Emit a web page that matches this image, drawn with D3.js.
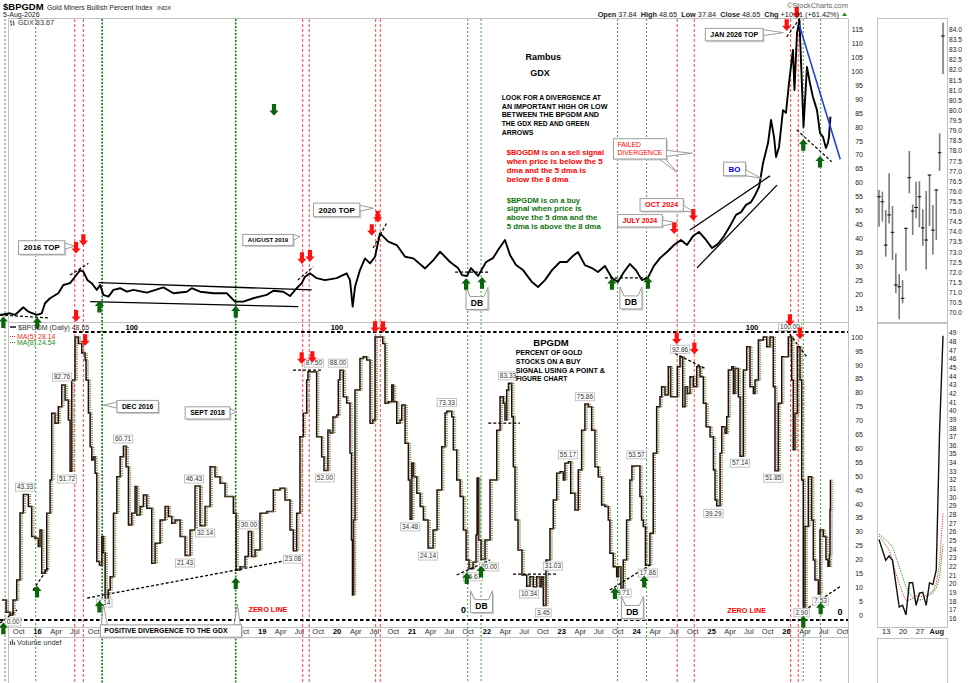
<!DOCTYPE html>
<html lang="en">
<head>
<meta charset="UTF-8">
<title>$BPGDM Gold Miners Bullish Percent Index</title>
<script src="https://d3js.org/d3.v7.min.js"></script>
<style>
    body { margin: 0; background: #fff; }
    text { font-family: "Liberation Sans", Arial, sans-serif; }
</style>
</head>
<body>
<svg id="chart" width="973" height="683"></svg>
<script>
    // ---- data (time as decimal year) ----
    var gdxSeries = [
        [2015.506,12.5],[2015.64,13.1],[2015.706,12.5],[2015.817,15.25],[2015.884,13.7],[2015.996,12.5],[2016.063,13.1],[2016.107,16.7],
        [2016.174,18.5],[2016.284,20.3],[2016.351,23.25],[2016.441,23.9],[2016.507,26.2],[2016.574,28.6],[2016.618,28],[2016.672,25],
        [2016.73,23.9],[2016.797,21.5],[2016.841,23.25],[2016.885,19.7],[2016.952,19.1],[2017.019,21.5],[2017.108,22.1],[2017.198,20.85],
        [2017.286,21.5],[2017.465,20.5],[2017.686,22.4],[2017.82,20.3],[2017.999,20.85],[2018.065,22.1],[2018.176,20.85],[2018.354,20.3],
        [2018.533,20.3],[2018.644,17.3],[2018.754,17.3],[2018.888,18.5],[2019.067,19.7],[2019.155,21.2],[2019.289,20.85],[2019.378,19.3],
        [2019.467,22.1],[2019.534,23.9],[2019.578,26.2],[2019.645,27.45],[2019.734,25.7],[2019.845,25],[2020.001,25.7],[2020.135,27.45],
        [2020.179,25],[2020.215,15.5],[2020.246,22.6],[2020.312,28.6],[2020.379,32.8],[2020.446,31],[2020.513,33.4],[2020.579,41.8],
        [2020.623,40.6],[2020.69,38.8],[2020.802,37.6],[2020.913,33.4],[2021.024,32.8],[2021.18,29.2],[2021.291,32.2],[2021.381,35.2],
        [2021.514,31.5],[2021.621,29.35],[2021.674,26.8],[2021.741,26.5],[2021.794,29.35],[2021.888,26.5],[2021.995,31.5],[2022.088,32.9],
        [2022.155,35.8],[2022.248,39.4],[2022.315,34],[2022.395,30.4],[2022.489,28.6],[2022.609,24.3],[2022.689,22.5],[2022.782,25],
        [2022.876,28.6],[2022.983,31.5],[2023.076,31.5],[2023.156,33.7],[2023.223,35.1],[2023.316,30.4],[2023.41,29.35],[2023.49,27.9],
        [2023.583,30.1],[2023.677,25.8],[2023.757,24.3],[2023.837,27.9],[2023.917,30.8],[2023.997,28.6],[2024.077,25],[2024.157,25.8],
        [2024.237,30.1],[2024.318,32.9],[2024.411,35.1],[2024.505,37.6],[2024.598,39.4],[2024.678,37.6],[2024.758,40.8],[2024.838,42.3],
        [2024.932,39.4],[2025.012,36.5],[2025.092,38],[2025.172,40.8],[2025.252,44.4],[2025.332,48.4],[2025.399,49.4],[2025.466,52],
        [2025.533,53],[2025.573,54.8],[2025.64,58.4],[2025.693,67],[2025.76,74.2],[2025.8,82.5],[2025.84,76.4],[2025.867,69.2],
        [2025.907,72.8],[2025.96,86],[2026.0,85],[2026.04,95.7],[2026.093,107.6],[2026.113,93.2],[2026.147,113.7],[2026.18,118.3],
        [2026.2,104],[2026.234,80],[2026.28,101.5],[2026.32,95.7],[2026.36,90.7],[2026.414,86],[2026.454,77.8],[2026.494,76.4],
        [2026.534,72.4],[2026.56,74.2],[2026.574,76.4],[2026.594,83.67]
    ];

    var bpgdmSeries = [
        [2015.533,5.4],[2015.586,1],[2015.64,0],[2015.68,5.4],[2015.729,12.6],[2015.773,36.7],[2015.817,43.33],[2015.853,43.33],
        [2015.884,39],[2015.929,28.2],[2015.973,27.6],[2016.017,24.6],[2016.04,30.6],[2016.063,15],[2016.107,16.2],[2016.13,36.6],
        [2016.174,48.6],[2016.196,72.6],[2016.24,69],[2016.284,74.9],[2016.33,82.76],[2016.374,77.3],[2016.418,70.1],[2016.441,51.72],
        [2016.463,84.5],[2016.507,100],[2016.551,97.7],[2016.597,94.2],[2016.641,91.7],[2016.654,84.5],[2016.685,72.7],[2016.708,60.5],
        [2016.73,55.8],[2016.752,56.9],[2016.774,51],[2016.797,19.2],[2016.832,18],[2016.864,28.2],[2016.885,22.3],[2016.908,4.14],
        [2016.948,9],[2016.975,13.8],[2017.019,36.6],[2017.064,49.7],[2017.108,56.9],[2017.152,60.71],[2017.188,53.3],[2017.219,32.4],
        [2017.264,36.6],[2017.308,46.2],[2017.331,36],[2017.375,39],[2017.419,43.2],[2017.465,38.4],[2017.531,18.6],[2017.575,25.8],
        [2017.642,34.2],[2017.709,39],[2017.753,35.4],[2017.798,33],[2017.842,34.2],[2017.909,28.2],[2017.976,21.43],[2018.043,30.6],
        [2018.109,46.43],[2018.176,32.14],[2018.243,39],[2018.31,53.3],[2018.376,49.7],[2018.443,47.4],[2018.51,42.6],[2018.577,42.6],
        [2018.621,36.6],[2018.657,16.2],[2018.71,17.4],[2018.777,21],[2018.821,30],[2018.866,21],[2018.911,23.4],[2018.977,36.6],
        [2019.067,37.2],[2019.155,45],[2019.244,45.6],[2019.311,41.4],[2019.378,30.6],[2019.422,23.08],[2019.467,36.6],[2019.511,64.1],
        [2019.556,72.6],[2019.601,84.5],[2019.618,87.5],[2019.725,87.5],[2019.734,64.1],[2019.801,56.9],[2019.832,52],[2019.885,66.5],
        [2019.912,65.5],[2019.952,71.2],[2020.001,71.9],[2020.023,84.5],[2020.045,88],[2020.09,78.5],[2020.135,76.3],[2020.179,58.3],
        [2020.199,27],[2020.212,7.2],[2020.226,34.2],[2020.246,80.9],[2020.312,92.3],[2020.356,92.9],[2020.402,91.7],[2020.446,69],
        [2020.482,70.1],[2020.513,100],[2020.579,100],[2020.616,97.7],[2020.646,76.2],[2020.69,76.7],[2020.736,82.7],[2020.757,76.7],
        [2020.802,69],[2020.846,70.1],[2020.869,75.5],[2020.913,61.8],[2020.957,48.6],[2020.98,34.48],[2021.003,54.7],[2021.024,49.7],
        [2021.07,43.8],[2021.114,39],[2021.158,34.2],[2021.22,24.14],[2021.287,30.6],[2021.34,45],[2021.403,60.5],[2021.447,72.7],
        [2021.47,73.33],[2021.537,71.3],[2021.558,59.4],[2021.603,48.6],[2021.648,42.6],[2021.692,30.6],[2021.728,19.8],[2021.768,16.67],
        [2021.821,19],[2021.861,28.8],[2021.875,49.3],[2021.895,27],[2021.928,20],[2021.981,27],[2022.048,48.6],[2022.138,66.5],
        [2022.182,78.5],[2022.226,76.2],[2022.248,70.1],[2022.271,80.9],[2022.295,83.33],[2022.338,71.3],[2022.359,53.3],[2022.382,34.2],
        [2022.422,23.4],[2022.475,14.4],[2022.538,10.34],[2022.582,13.8],[2022.626,10.2],[2022.672,13.8],[2022.716,10.2],[2022.738,13.8],
        [2022.76,3.45],[2022.796,19.8],[2022.849,31.03],[2022.893,41.4],[2022.939,51],[2022.983,51.5],[2023.027,48.6],[2023.049,54.6],
        [2023.094,55.17],[2023.126,43.8],[2023.183,37.8],[2023.227,52.2],[2023.272,66.5],[2023.316,75.86],[2023.361,74.9],[2023.406,66.5],
        [2023.45,53.3],[2023.494,49.7],[2023.539,39.6],[2023.583,39],[2023.628,34.2],[2023.65,22.2],[2023.694,17.4],[2023.74,13.8],
        [2023.761,17.4],[2023.797,9.71],[2023.828,19.8],[2023.873,34.2],[2023.917,48.6],[2023.944,53.57],[2024.024,53.57],[2024.051,42.6],
        [2024.073,34.2],[2024.095,31.8],[2024.124,17.86],[2024.184,29.4],[2024.228,58.2],[2024.274,74.9],[2024.318,78.5],[2024.34,82.1],
        [2024.385,79.1],[2024.429,89.3],[2024.461,78.5],[2024.518,78.5],[2024.549,89.3],[2024.585,92.86],[2024.621,74.9],[2024.652,82.1],
        [2024.682,79.7],[2024.718,85.7],[2024.762,82.1],[2024.808,89.3],[2024.852,85.7],[2024.896,76.2],[2024.932,67.7],[2024.963,67.7],
        [2024.985,64.1],[2025.03,52.2],[2025.052,41.4],[2025.075,39.29],[2025.119,58.2],[2025.142,67.7],[2025.186,65.4],[2025.208,71.3],
        [2025.23,88.1],[2025.275,89.3],[2025.297,79.7],[2025.319,88.7],[2025.363,78.5],[2025.386,57.14],[2025.43,88.1],[2025.475,96.5],
        [2025.519,82.1],[2025.564,79.7],[2025.586,84.5],[2025.631,98.9],[2025.697,100],[2025.743,96.5],[2025.786,100],[2025.83,82.1],
        [2025.853,51.85],[2025.897,76.2],[2025.943,92.9],[2025.987,92.9],[2026.031,100],[2026.076,84.5],[2026.097,59.4],[2026.12,72.6],
        [2026.151,96.5],[2026.187,84.5],[2026.21,48.6],[2026.231,2.9],[2026.254,31.8],[2026.298,49.7],[2026.343,34.2],[2026.365,19.8],
        [2026.387,12.6],[2026.432,7.53],[2026.454,30.6],[2026.498,28.2],[2026.534,20],[2026.561,17.5],[2026.581,21.6],[2026.588,37.84],
        [2026.594,48.65]
    ];

    // last 20 sessions (right hand mini panels)
    var miniDates = ['2026-07-09','2026-07-10','2026-07-13','2026-07-14','2026-07-15','2026-07-16','2026-07-17','2026-07-20',
        '2026-07-21','2026-07-22','2026-07-23','2026-07-24','2026-07-27','2026-07-28','2026-07-29','2026-07-30','2026-07-31',
        '2026-08-03','2026-08-04','2026-08-05'];
    var miniHigh = [76.06,75.98,75.07,76.89,75.27,72.93,71.91,71.61,74.2,77.99,75.35,76.47,76.5,75.11,76.01,76.82,75.32,76.1,78.86,84.33];
    var miniLow = [74.25,74.5,72.77,74.41,72.6,70.96,69.67,70.46,72.07,75.9,73.84,74.66,74.22,73.31,72.14,74.28,72.88,73.59,77.01,81.79];
    var miniClose = [75.73,75.48,73.34,74.83,73.97,71.37,71.28,70.71,74.17,76.67,75.02,75.2,75.73,74.19,73.59,76.8,74.08,76.06,77.9,83.67];
    var miniBp = [25.1,23.9,22.7,23.2,22.7,20.0,17.3,17.5,16.4,20.1,20.1,17.5,18.9,19.0,17.5,20.1,19.9,21.6,37.84,48.65];
    var miniMa5 = [25.5,25.05,24.47,23.9,22.74,21.2,20.04,18.9,18.1,18.1,18.3,18.6,18.6,18.5,18.7,18.9,19.1,20.04,22.4,28.14];
    var miniMa8 = [25.74,25.43,25.05,24.67,24.28,23.12,21.96,20.81,19.65,18.9,18.43,18.1,18.1,18.2,18.5,18.7,18.9,19.5,20.81,24.54];
    var miniTickDates = ['2026-07-13','2026-07-20','2026-07-27','2026-08-03'];
    var miniTickLabels = ['13','20','27','Aug'];

    var topTicks = [15,20,25,30,35,40,45,50,55,60,65,70,75,80,85,90,95,100,105,110,115];
    var bottomTicks = [0,5,10,15,20,25,30,35,40,45,50,55,60,65,70,75,80,85,90,95,100];

    // signal lines
    var greenLines = [2015.573,2015.983,2021.75,2021.928,2023.753,2024.14,2026.231,2026.463];
    var greenKeyLines = [2016.868,2018.652];
    var redLines = [2016.503,2016.618,2019.547,2019.635,2020.521,2020.583,2024.548,2024.775,2026.062,2026.164];

    // arrows [time, value]
    var topGreenUp = [[2015.55,9.9],[2016.004,9.6],[2016.832,15.5],[2018.653,13.7],[2021.728,23.6],[2021.941,24],
        [2023.677,23.6],[2024.157,24],[2026.231,73.5],[2026.454,67.5]];
    var topGreenDown = [[2019.164,86.1]];
    var topRedDown = [[2016.521,36.6],[2016.618,39.4],[2019.538,32.9],[2019.645,33.7],[2020.469,43],[2020.549,47.8],
        [2024.508,43.6],[2024.762,48.4],[2026.009,116.5],[2026.143,121]];
    var botRedDown = [[2016.521,107.6],[2016.641,98.9],[2019.534,92.4],[2019.676,92.8],[2020.513,103.6],[2020.619,103.6],
        [2024.541,99.5],[2024.776,95.9],[2026.053,106.1],[2026.187,101.3]];
    var botGreenUp = [[2015.55,-4.8],[2016.0,8.4],[2016.832,3],[2018.653,11.4],[2021.737,13.2],[2021.928,15.6],
        [2023.717,7.8],[2024.108,12],[2026.231,-2.4],[2026.463,2.4]];

    // hand drawn lines
    var topSolid = [[[2016.818,24.1],[2019.668,21.5]],[[2016.708,17.3],[2019.489,15.5]],
        [[2024.718,43],[2025.786,62.4]],[[2024.812,29.4],[2025.88,59.1]]];
    var topDashed = [[[2015.506,12.5],[2016.174,11.4]],[[2016.441,26.8],[2016.685,31]],[[2019.481,25],[2019.689,29.8]],
        [[2020.486,36.5],[2020.669,45.5]],[[2021.581,27.9],[2022.048,27.9]],[[2023.583,25.8],[2024.184,25.8]],
        [[2026.009,112.3],[2026.187,119]],[[2026.143,78.9],[2026.61,67.5]]];
    var topBlue = [[[2026.178,116.5],[2026.725,68.4]]];
    var botLevels = [[[2016.481,101.8],[2026.828,101.8]],[[2015.506,-1.8],[2026.828,-1.8]]];
    var botDashed = [[[2015.506,-2.9],[2015.733,1.8]],[[2015.947,9],[2016.147,16.9]],[[2016.668,6.1],[2019.511,20.5]],
        [[2019.418,88.1],[2019.818,88.1]],[[2021.603,14.4],[2022.048,19.8]],[[2022.025,69],[2022.448,69]],
        [[2022.355,14.7],[2022.943,14.7]],[[2023.65,9],[2024.184,18]],[[2024.518,94.1],[2024.918,88.7]],
        [[2026.009,102.5],[2026.276,92.9]],[[2026.187,0.6],[2026.721,10.2]]];

    // swing labels [text, time, value]
    var valueLabels = [['0.00',2015.68,-2.5],['43.33',2015.84,46],['82.76',2016.334,85.6],['51.72',2016.40,48.9],
        ['4.14',2016.895,4.3],['60.71',2017.148,63.3],['46.43',2018.096,48.9],['32.14',2018.243,29.5],['21.43',2017.976,18.7],
        ['30.00',2018.83,32.4],['23.08',2019.418,20.1],['87.50',2019.698,90.6],['52.00',2019.845,49.3],['88.00',2020.019,90.6],
        ['73.33',2021.47,76.4],['34.48',2020.98,31.7],['24.14',2021.22,21.2],['16.67',2021.821,13.7],['20.00',2022.035,17.3],
        ['83.33',2022.288,86],['10.34',2022.569,7.55],['3.45',2022.76,0.8],['31.03',2022.889,17.6],['55.17',2023.089,57.6],
        ['75.86',2023.316,78.5],['53.57',2024.006,57.6],['9.71',2023.828,7.9],['17.86',2024.157,15.1],['92.86',2024.585,95.6],
        ['39.29',2025.03,36.6],['57.14',2025.386,54.6],['51.85',2025.83,49.2],['100.00',2026.053,103.7],['2.90',2026.21,0.8],
        ['7.53',2026.463,5.0]];

    var callouts = [
        {panel: 'top', t: 2016.062, v: 36.7, text: ['2016 TOP'], size: 8, tips: [[2016.507, 37.2]]},
        {panel: 'top', t: 2019.084, v: 39.4, text: ['AUGUST 2019'], size: 6, tips: [[2019.511, 40.6]]},
        {panel: 'top', t: 2020.001, v: 50.2, text: ['2020 TOP'], size: 8, tips: [[2020.49, 50.8]]},
        {panel: 'top', t: 2024.051, v: 72.1, text: ['FAILED', 'DIVERGENCE'], size: 6.8, color: '#ff0000', weight: 'normal', left: true,
            tips: [[2024.749, 70.5], [2024.541, 63.8]]},
        {panel: 'top', t: 2025.313, v: 64.9, text: ['BO'], size: 8, color: '#0000ee', tips: [[2025.666, 61.6]]},
        {panel: 'top', t: 2024.34, v: 52, text: ['OCT 2024'], size: 7.2, color: '#ff0000', tips: [[2024.772, 49.4]]},
        {panel: 'top', t: 2024.051, v: 46.3, text: ['JULY 2024'], size: 7, color: '#ff0000', tips: [[2024.541, 45.5]]},
        {panel: 'top', t: 2025.308, v: 113.1, text: ['JAN 2026 TOP'], size: 7, tips: [[2025.964, 113.8]]},
        {panel: 'bottom', t: 2017.342, v: 75, text: ['DEC 2016'], size: 6.8, tips: [[2016.885, 75.5]]},
        {panel: 'bottom', t: 2018.276, v: 72.7, text: ['SEPT 2018'], size: 6.8, tips: [[2018.666, 73.1]]},
        {panel: 'bottom', t: 2017.787, v: -5.76, text: ['POSITIVE DIVERGENCE TO THE GDX'], size: 6.9, pad: 18, left: true,
            tips: [[2016.885, 3.96], [2018.674, 3.96]]}
    ];
    var dbMarks = [{panel: 'top', t: 2021.874, v: 16.8}, {panel: 'top', t: 2023.931, v: 17.0},
        {panel: 'bottom', t: 2021.934, v: 3.2}, {panel: 'bottom', t: 2023.95, v: 1.1}];

    var noteBlocks = [
        {panel: 'top', t: 2022.204, v: 90.6, color: '#000',
            lines: ['LOOK FOR A DIVERGENCE AT', 'AN IMPORTANT HIGH OR LOW', 'BETWEEN THE BPGDM AND', 'THE GDX RED AND GREEN', 'ARROWS'],
            widths: [99.3, 105.7, 97.3, 87.7, 31.7]},
        {panel: 'top', t: 2022.271, v: 70.7, color: '#ff0000',
            lines: ['$BOGDM is on a sell signal', 'when price is below the 5', 'dma and the 5 dma is', 'below the 8 dma'],
            widths: [97.3, 96, 79.3, 61.7]},
        {panel: 'top', t: 2022.271, v: 53.75, color: '#0d730d',
            lines: ['$BPGDM is on a buy', 'signal when price is', 'above the 5 dma and the', '5 dma is above the 8 dma'],
            widths: [73.3, 75, 90.7, 94]},
        {panel: 'bottom', t: 2022.391, v: 94.35, color: '#000',
            lines: ['PERCENT OF GOLD', 'STOCKS ON A BUY', 'SIGNAL USING A POINT &', 'FIGURE CHART'],
            widths: [66.7, 65, 89.3, 51.7]}
    ];
    var notes = [
        {panel: 'top', t: 2022.76, v: 105.2, text: 'Rambus', size: 9},
        {panel: 'top', t: 2022.716, v: 99.2, text: 'GDX', size: 9},
        {panel: 'bottom', t: 2022.863, v: 97.8, text: 'BPGDM', size: 9.5},
        {panel: 'bottom', t: 2019.084, v: 2.05, text: 'ZERO LINE', size: 7.3, color: '#ff0000'},
        {panel: 'bottom', t: 2025.475, v: 1.8, text: 'ZERO LINE', size: 7.3, color: '#ff0000'},
        {panel: 'bottom', t: 2021.692, v: 1.8, text: '0', size: 9},
        {panel: 'bottom', t: 2026.721, v: 1.2, text: '0', size: 9},
        {panel: 'bottom', t: 2017.264, v: 103.6, text: '100', size: 7.5},
        {panel: 'bottom', t: 2020.005, v: 103.6, text: '100', size: 7.5},
        {panel: 'bottom', t: 2025.546, v: 103.6, text: '100', size: 7.5}
    ];

    // ---- scales ----
    var svg = d3.select('#chart');

    function toDate(t) {
        var y = Math.floor(t), a = new Date(y, 0, 1), b = new Date(y + 1, 0, 1);
        return new Date(+a + (t - y) * (b - a));
    }
    var x = d3.scaleTime().domain([new Date(2016, 0, 1), new Date(2026, 0, 1)]).range([37, 786]);
    var X = function (t) { return x(toDate(t)); };
    var yTop = d3.scaleLinear().domain([15, 115]).range([308, 29.3]);
    var yBot = d3.scaleLinear().domain([0, 100]).range([615, 337]);
    var mx = d3.scalePoint().domain(miniDates).range([879, 943]);
    var myTop = d3.scaleLinear().domain([70, 84]).range([312.7, 29.3]);
    var myBot = d3.scaleLinear().domain([16, 49]).range([618.3, 332.7]);
    function Y(panel) { return panel === 'top' ? yTop : yBot; }

    // ---- frames ----
    var frame = svg.append('g').attr('fill', 'none').attr('stroke', '#c2c2c2').attr('stroke-width', 1);
    [[8.5, 18.5, 848.5, 18.5], [848.5, 18.5, 848.5, 683], [8.5, 18.5, 8.5, 683], [8.5, 322.5, 848.5, 322.5],
        [8.5, 627.5, 848.5, 627.5], [8.5, 637.5, 848.5, 637.5]].forEach(function (l) {
        frame.append('line').attr('x1', l[0]).attr('y1', l[1]).attr('x2', l[2]).attr('y2', l[3]);
    });
    [[877.5, 18.5, 70, 304], [877.5, 323.5, 70, 304], [877.5, 638.5, 70, 50]].forEach(function (r) {
        frame.append('rect').attr('x', r[0]).attr('y', r[1]).attr('width', r[2]).attr('height', r[3]);
    });

    // ---- axes ----
    function styleAxis(g, size) {
        g.select('.domain').remove();
        g.selectAll('text').attr('font-size', size).attr('fill', '#222')
            .attr('font-family', '"Liberation Sans", Arial, sans-serif');
    }
    svg.append('g').attr('transform', 'translate(863,0)')
        .call(d3.axisLeft(yTop).tickValues(topTicks).tickSize(0).tickPadding(0)).call(styleAxis, 7);
    svg.append('g').attr('transform', 'translate(863,0)')
        .call(d3.axisLeft(yBot).tickValues(bottomTicks).tickSize(0).tickPadding(0)).call(styleAxis, 7);

    // labels under the divergence callout are hidden by it in the original
    var xTicks = d3.timeMonths(new Date(2015, 9, 1), new Date(2026, 10, 2), 3)
        .filter(function (d) { return x(d) < 100 || x(d) > 240; });
    var xg = svg.append('g').attr('transform', 'translate(0,628.5)')
        .call(d3.axisBottom(x).tickValues(xTicks).tickSize(0).tickPadding(0)
            .tickFormat(function (d) { return d.getMonth() === 0 ? d3.timeFormat('%y')(d) : d3.timeFormat('%b')(d); }))
        .call(styleAxis, 7.5);
    xg.selectAll('text').attr('font-weight', function (d) { return d.getMonth() === 0 ? 'bold' : 'normal'; })
        .attr('fill', function (d) { return d.getMonth() === 0 ? '#000' : '#333'; });

    svg.append('g').attr('transform', 'translate(948,0)')
        .call(d3.axisRight(myTop).tickValues(d3.range(70, 84.01, 0.5)).tickFormat(d3.format('.1f')).tickSize(0).tickPadding(1))
        .call(styleAxis, 6.6);
    svg.append('g').attr('transform', 'translate(948,0)')
        .call(d3.axisRight(myBot).tickValues(d3.range(16, 49.5, 1)).tickSize(0).tickPadding(1))
        .call(styleAxis, 6.6);
    var mg = svg.append('g').attr('transform', 'translate(0,628.5)')
        .call(d3.axisBottom(mx).tickValues(miniTickDates).tickSize(0).tickPadding(0)
            .tickFormat(function (d, i) { return miniTickLabels[i]; }))
        .call(styleAxis, 7.5);
    mg.selectAll('text').attr('font-weight', function (d, i) { return miniTickLabels[i] === 'Aug' ? 'bold' : 'normal'; });

    // ---- signal lines ----
    var sig = svg.append('g');
    greenLines.forEach(function (t) {
        sig.append('line').attr('x1', X(t)).attr('x2', X(t)).attr('y1', 19).attr('y2', 683)
            .attr('stroke', '#3c9f3c').attr('stroke-dasharray', '2,2');
    });
    greenKeyLines.forEach(function (t) {
        sig.append('line').attr('x1', X(t)).attr('x2', X(t)).attr('y1', 19).attr('y2', 683)
            .attr('stroke', '#137a13').attr('stroke-width', 1.6).attr('stroke-dasharray', '2,1.5');
    });
    redLines.forEach(function (t) {
        sig.append('line').attr('x1', X(t)).attr('x2', X(t)).attr('y1', 19).attr('y2', 683)
            .attr('stroke', '#ff4646').attr('stroke-dasharray', '3,2');
    });

    // ---- price lines ----
    var gdxLine = d3.line().x(function (d) { return X(d[0]); }).y(function (d) { return yTop(d[1]); });
    svg.append('path').datum(gdxSeries).attr('d', gdxLine).attr('fill', 'none')
        .attr('stroke', '#000').attr('stroke-width', 1.9).attr('stroke-linejoin', 'round');

    var bpLine = d3.line().x(function (d) { return X(d[0]); }).y(function (d) { return yBot(d[1]); })
        .curve(d3.curveStepAfter);
    svg.append('path').datum(bpgdmSeries).attr('d', bpLine).attr('fill', 'none')
        .attr('stroke', '#111').attr('stroke-width', 1.5);
    // moving averages drawn as lagging dotted traces of the same series
    svg.append('path').datum(bpgdmSeries).attr('d', bpLine).attr('fill', 'none').attr('transform', 'translate(1.3,0)')
        .attr('stroke', '#e83030').attr('stroke-width', 0.9).attr('stroke-dasharray', '1,1.3');
    svg.append('path').datum(bpgdmSeries).attr('d', bpLine).attr('fill', 'none').attr('transform', 'translate(2.3,0)')
        .attr('stroke', '#1e8c1e').attr('stroke-width', 0.9).attr('stroke-dasharray', '1,1.3');

    // ---- hand drawn lines ----
    function segs(list, y, stroke, width, dash) {
        list.forEach(function (s) {
            svg.append('line').attr('x1', X(s[0][0])).attr('y1', y(s[0][1])).attr('x2', X(s[1][0])).attr('y2', y(s[1][1]))
                .attr('stroke', stroke).attr('stroke-width', width).attr('stroke-dasharray', dash);
        });
    }
    segs(topSolid, yTop, '#000', 1.3, null);
    segs(topDashed, yTop, '#000', 1.2, '3,2');
    segs(topBlue, yTop, '#1f3fe0', 1.6, null);
    segs(botLevels, yBot, '#000', 2.2, '3.5,2.5');
    segs(botDashed, yBot, '#000', 1.3, '3,2');

    // ---- swing value labels ----
    var vl = svg.append('g');
    valueLabels.forEach(function (d) {
        var px = X(d[1]), py = yBot(d[2]);
        var box = vl.append('rect').attr('fill', '#fff').attr('stroke', '#b5b5b5').attr('stroke-width', 0.8);
        var tx = vl.append('text').attr('x', px).attr('y', py).attr('dy', '0.35em').attr('text-anchor', 'middle')
            .attr('font-size', 6.5).attr('fill', '#333').text(d[0]);
        var w = tx.node().getComputedTextLength() + 3;
        box.attr('x', px - w / 2).attr('y', py - 4).attr('width', w).attr('height', 8);
    });

    // ---- callouts ----
    function callout(c) {
        var y = Y(c.panel), cx = X(c.t), cy = y(c.v);
        var g = svg.append('g');
        var lh = c.size * 1.2;
        var probe = g.append('g');
        var widest = 0;
        c.text.forEach(function (s) {
            var t = probe.append('text').attr('font-size', c.size).attr('font-weight', c.weight || 'bold').text(s);
            widest = Math.max(widest, t.node().getComputedTextLength());
        });
        probe.remove();
        var w = widest + (c.pad || (c.left ? 8 : 10)), h = c.text.length * lh + 4;
        g.append('rect').attr('x', cx - w / 2 + 1.5).attr('y', cy - h / 2 + 1.5).attr('width', w).attr('height', h)
            .attr('fill', '#cfcfcf');
        c.tips.forEach(function (tp) {
            var tx = X(tp[0]), ty = y(tp[1]), pts;
            if (Math.abs(tx - cx) / w >= Math.abs(ty - cy) / h) {
                var ex = tx > cx ? cx + w / 2 : cx - w / 2;
                var by = Math.max(cy - h / 2 + 3, Math.min(cy + h / 2 - 3, ty));
                pts = [[ex, by - 3], [tx, ty], [ex, by + 3]];
            } else {
                var ey = ty > cy ? cy + h / 2 : cy - h / 2;
                var bx = Math.max(cx - w / 2 + 4, Math.min(cx + w / 2 - 4, tx));
                pts = [[bx - 3, ey], [tx, ty], [bx + 3, ey]];
            }
            g.append('polygon').attr('points', pts.join(' ')).attr('fill', '#fff').attr('stroke', '#9d9d9d');
        });
        g.append('rect').attr('x', cx - w / 2).attr('y', cy - h / 2).attr('width', w).attr('height', h)
            .attr('fill', '#fff').attr('stroke', '#9d9d9d');
        c.text.forEach(function (s, i) {
            g.append('text').attr('x', c.left ? cx - w / 2 + 4 : cx).attr('y', cy - h / 2 + 2 + lh * (i + 0.5))
                .attr('dy', '0.35em').attr('text-anchor', c.left ? 'start' : 'middle')
                .attr('font-size', c.size).attr('font-weight', c.weight || 'bold').attr('fill', c.color || '#000').text(s);
        });
    }
    callouts.forEach(callout);

    dbMarks.forEach(function (d) {
        var cx = X(d.t), cy = Y(d.panel)(d.v), w = 22, h = 13, ear = 9;
        var x0 = cx - w / 2, x1 = cx + w / 2, y0 = cy - h / 2, y1 = cy + h / 2;
        var path = 'M' + x0 + ',' + y1 + 'L' + x0 + ',' + (y0 - ear) + 'L' + (x0 + 4) + ',' + y0 + 'L' + (x1 - 4) + ',' + y0 +
            'L' + x1 + ',' + (y0 - ear) + 'L' + x1 + ',' + y1 + 'Z';
        svg.append('path').attr('d', path).attr('transform', 'translate(1.5,1.5)').attr('fill', '#cfcfcf');
        svg.append('path').attr('d', path).attr('fill', '#fff').attr('stroke', '#9d9d9d');
        svg.append('text').attr('x', cx).attr('y', cy).attr('dy', '0.35em').attr('text-anchor', 'middle')
            .attr('font-size', 8.5).attr('font-weight', 'bold').text('DB');
    });

    // ---- text notes ----
    noteBlocks.forEach(function (b) {
        var px = X(b.t), py = Y(b.panel)(b.v);
        b.lines.forEach(function (s, i) {
            svg.append('text').attr('x', px).attr('y', py + i * 8.7).attr('dy', '0.35em')
                .attr('font-size', 7.6).attr('font-weight', 'bold').attr('fill', b.color)
                .attr('textLength', b.widths[i]).attr('lengthAdjust', 'spacingAndGlyphs').text(s);
        });
    });
    notes.forEach(function (n) {
        svg.append('text').attr('x', X(n.t)).attr('y', Y(n.panel)(n.v)).attr('dy', '0.35em').attr('text-anchor', 'middle')
            .attr('font-size', n.size).attr('font-weight', 'bold').attr('fill', n.color || '#000').text(n.text);
    });

    // ---- arrows ----
    function arrow(px, py, dir, color) {
        var hw = 4.6, sw = 2.1, hh = 5.8, head = 5.2, s = dir === 'down' ? 1 : -1;
        var pts = [[px - sw, py - s * hh], [px + sw, py - s * hh], [px + sw, py + s * (hh - head)], [px + hw, py + s * (hh - head)],
            [px, py + s * hh], [px - hw, py + s * (hh - head)], [px - sw, py + s * (hh - head)]];
        svg.append('polygon').attr('points', pts.join(' ')).attr('fill', color);
    }
    topGreenUp.forEach(function (d) { arrow(X(d[0]), yTop(d[1]), 'up', '#0b650b'); });
    topGreenDown.forEach(function (d) { arrow(X(d[0]), yTop(d[1]), 'down', '#0b650b'); });
    topRedDown.forEach(function (d) { arrow(X(d[0]), yTop(d[1]), 'down', '#ff1010'); });
    botRedDown.forEach(function (d) { arrow(X(d[0]), yBot(d[1]), 'down', '#ff1010'); });
    botGreenUp.forEach(function (d) { arrow(X(d[0]), yBot(d[1]), 'up', '#0b650b'); });

    // ---- mini panels ----
    miniDates.forEach(function (d, i) {
        var px = mx(d);
        svg.append('line').attr('x1', px).attr('x2', px).attr('y1', myTop(miniHigh[i])).attr('y2', myTop(miniLow[i]))
            .attr('stroke', '#7a7a7a').attr('stroke-width', 1.6);
        svg.append('line').attr('x1', px - 1.8).attr('x2', px + 1.8).attr('y1', myTop(miniClose[i])).attr('y2', myTop(miniClose[i]))
            .attr('stroke', '#000').attr('stroke-width', 1);
    });
    function miniLine(vals, stroke, width, dash) {
        var line = d3.line().x(function (d, i) { return mx(miniDates[i]); }).y(function (d) { return myBot(d); });
        svg.append('path').datum(vals).attr('d', line).attr('fill', 'none').attr('stroke', stroke)
            .attr('stroke-width', width).attr('stroke-dasharray', dash);
    }
    miniLine(miniMa8, '#1e8c1e', 1, '1.2,1.2');
    miniLine(miniMa5, '#e83030', 1, '1.2,1.2');
    miniLine(miniBp, '#111', 1.4, null);

    // ---- header and legends ----
    var hd = svg.append('g');
    hd.append('text').attr('x', 3).attr('y', 10).attr('font-size', 9.5).attr('font-weight', 'bold').text('$BPGDM');
    hd.append('text').attr('x', 47).attr('y', 9.5).attr('font-size', 7).attr('fill', '#222').text('Gold Miners Bullish Percent Index');
    hd.append('text').attr('x', 157).attr('y', 9.5).attr('font-size', 6).attr('fill', '#222').text('INDX');
    hd.append('text').attr('x', 3).attr('y', 16.8).attr('font-size', 7).attr('fill', '#222').text('5-Aug-2026');
    hd.append('text').attr('x', 848).attr('y', 7.8).attr('text-anchor', 'end').attr('font-size', 7.3).attr('fill', '#666')
        .text('\u00a9StockCharts.com');
    var quote = hd.append('text').attr('x', 839).attr('y', 16.8).attr('text-anchor', 'end').attr('font-size', 7.3).attr('fill', '#222');
    [['Open', 1], [' 37.84  ', 0], ['High', 1], [' 48.65  ', 0], ['Low', 1], [' 37.84  ', 0], ['Close', 1], [' 48.65  ', 0],
        ['Chg', 1], [' +10.81 (+61.42%)', 0]].forEach(function (p) {
        quote.append('tspan').attr('font-weight', p[1] ? 'bold' : 'normal').attr('xml:space', 'preserve').text(p[0]);
    });
    hd.append('polygon').attr('points', '842,16 847,16 844.5,12.5').attr('fill', '#1b8a1b');

    var lg = svg.append('g');
    lg.append('path').attr('d', 'M11,20V26M9.8,21.5H11M11,24.5H12.2M13.6,20.5V25.5M12.4,22H13.6M13.6,24H14.8')
        .attr('stroke', '#444').attr('stroke-width', 0.8).attr('fill', 'none');
    lg.append('text').attr('x', 18).attr('y', 25.3).attr('font-size', 7.3).attr('fill', '#333').text('GDX 83.67');
    lg.append('line').attr('x1', 10).attr('x2', 16).attr('y1', 327).attr('y2', 327).attr('stroke', '#000').attr('stroke-width', 1.4);
    lg.append('text').attr('x', 18).attr('y', 329.5).attr('font-size', 7).attr('fill', '#333').text('$BPGDM (Daily) 48.65');
    lg.append('line').attr('x1', 10).attr('x2', 16).attr('y1', 336.5).attr('y2', 336.5).attr('stroke', '#e83030').attr('stroke-dasharray', '1,1');
    lg.append('text').attr('x', 17).attr('y', 339).attr('font-size', 7).attr('fill', '#e83030').text('MA(5) 28.14');
    lg.append('line').attr('x1', 10).attr('x2', 16).attr('y1', 342.5).attr('y2', 342.5).attr('stroke', '#1e8c1e').attr('stroke-dasharray', '1,1');
    lg.append('text').attr('x', 17).attr('y', 345).attr('font-size', 7).attr('fill', '#1e8c1e').text('MA(8) 24.54');
    lg.append('path').attr('d', 'M10.5,645V641M12.5,645V639.5M14.5,645V642').attr('stroke', '#555').attr('stroke-width', 1.2);
    lg.append('text').attr('x', 17).attr('y', 645).attr('font-size', 7.3).attr('fill', '#333').text('Volume undef');
</script>
</body>
</html>
